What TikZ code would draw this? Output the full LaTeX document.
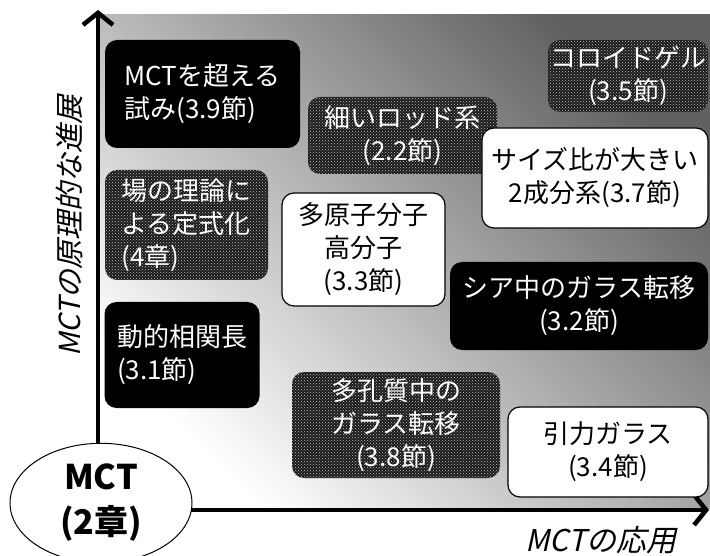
\documentclass[tikz,border=0pt]{standalone}
\usepackage{fontspec}
\setmainfont{Noto Sans CJK JP}
\newfontfamily\jpit[FakeSlant=0.22]{Noto Sans CJK JP}
\usetikzlibrary{arrows.meta,patterns,shapes.geometric}
\begin{document}
\begin{tikzpicture}[x=1pt,y=-1pt,
  box/.style={rounded corners=12pt, inner sep=0pt, align=center, font=\fontsize{26}{33}\selectfont},
  blackbox/.style={box, fill=black, text=white},
  whitebox/.style={box, fill=white, draw=black, line width=1.2pt, text=black},
  dotbox/.style={box, fill=black!90, text=white, postaction={pattern=crosshatch dots, pattern color=gray!45}},
  axisline/.style={line width=4pt, -{Straight Barb[length=12pt,width=30pt,line width=4.5pt]}},
]
\useasboundingbox (0,0) rectangle (710,556);
\shade[top color=black!62, bottom color=white, shading angle=-45] (100,15) rectangle (710,508);

% axes
\coordinate (yfoot) at (98,470);
\coordinate (ytop) at (98,10);
\coordinate (xfoot) at (150,510);
\coordinate (xtip) at (709,510);
\draw[axisline] (yfoot) -- (ytop);
\draw[axisline] (xfoot) -- (xtip);

% origin ellipse
\node[ellipse, draw=black, line width=1pt, fill=white, minimum width=182pt, minimum height=110pt,
      align=center, font=\bfseries\fontsize{34}{45}\selectfont] (mct) at (101,503) {MCT\\(2章)};

% axis labels
\node[font=\jpit\fontsize{29}{29}\selectfont, rotate=90] (ylab) at (69,226) {MCTの原理的な進展};
\node[font=\jpit\fontsize{30}{30}\selectfont] (xlab) at (601,540) {MCTの応用};

% boxes
\node[blackbox, align=left, minimum width=195pt, minimum height=108pt] (n39) at (202.5,94) {MCTを超える\\試み(3.9節)};
\node[dotbox, minimum width=189pt, minimum height=77pt] (n22) at (402.5,135.5) {細いロッド系\\(2.2節)};
\node[dotbox, minimum width=160pt, minimum height=72pt] (n35) at (628,76) {コロイドゲル\\(3.5節)};
\node[whitebox, minimum width=226pt, minimum height=100pt] (n37) at (595,178) {サイズ比が大きい\\2成分系(3.7節)};
\node[dotbox, align=left, minimum width=163pt, minimum height=110pt] (n4) at (186.5,225) {場の理論に\\よる定式化\\(4章)};
\node[whitebox, minimum width=163pt, minimum height=113pt] (n33) at (363.5,249.5) {多原子分子\\高分子\\(3.3節)};
\node[blackbox, align=left, minimum width=155pt, minimum height=106pt] (n31) at (182,355) {動的相関長\\(3.1節)};
\node[blackbox, minimum width=258pt, minimum height=88pt] (n32) at (579,306) {シア中のガラス転移\\(3.2節)};
\node[dotbox, minimum width=208pt, minimum height=106pt] (n38) at (396,425) {多孔質中の\\ガラス転移\\(3.8節)};
\node[whitebox, minimum width=200pt, minimum height=90pt] (n34) at (608,452) {引力ガラス\\(3.4節)};
\end{tikzpicture}
\end{document}
